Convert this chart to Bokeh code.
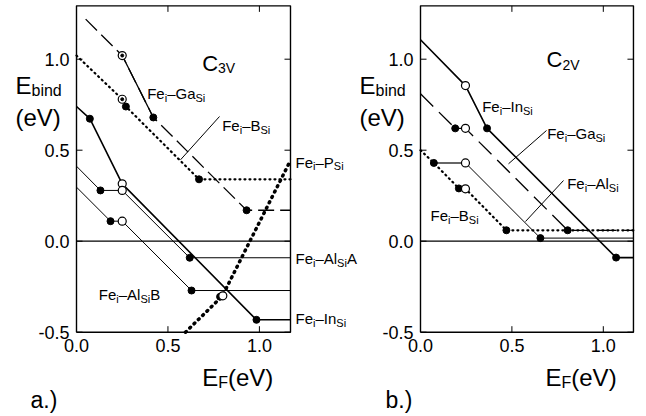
from bokeh.plotting import figure
from bokeh.models import Label, Range1d
from bokeh.layouts import row
from bokeh.embed import file_html
from bokeh.resources import INLINE

FONT = "Liberation Sans"

# ---------------- panel a.) C3v ----------------
xa_ga = [0.05, 0.25, 0.42, 0.93, 1.17]
ya_ga = [1.22, 1.02, 0.68, 0.17, 0.17]
xa_b = [0.0, 0.25, 0.27, 0.67, 1.17]
ya_b = [1.02, 0.78, 0.74, 0.34, 0.34]
xa_p = [0.596, 0.797, 1.17]
ya_p = [-0.5, -0.302, 0.444]
xa_in = [0.0, 0.073, 0.25, 0.984, 1.17]
ya_in = [0.74, 0.673, 0.315, -0.432, -0.432]
xa_ala = [0.0, 0.131, 0.25, 0.619, 1.17]
ya_ala = [0.412, 0.279, 0.279, -0.091, -0.091]
xa_alb = [0.0, 0.186, 0.25, 0.629, 1.17]
ya_alb = [0.297, 0.11, 0.11, -0.271, -0.271]
xa_filled = [0.42, 0.93, 0.27, 0.67, 0.073, 0.984, 0.131, 0.619, 0.186, 0.629, 0.785]
ya_filled = [0.68, 0.17, 0.74, 0.34, 0.673, -0.432, 0.279, -0.091, 0.11, -0.271, -0.305]
xa_open = [0.25, 0.25, 0.25, 0.25, 0.25, 0.80]
ya_open = [1.02, 0.78, 0.315, 0.279, 0.11, -0.30]
xa_dot = [0.25, 0.25]
ya_dot = [1.02, 0.78]

# ---------------- panel b.) C2v ----------------
xb_in = [0.0, 0.246, 0.364, 1.07, 1.165]
yb_in = [1.107, 0.855, 0.62, -0.09, -0.09]
xb_ga = [0.0, 0.19, 0.246, 0.805, 1.165]
yb_ga = [0.81, 0.62, 0.62, 0.06, 0.06]
xb_al = [0.073, 0.246, 0.656, 1.165]
yb_al = [0.43, 0.43, 0.017, 0.017]
xb_b = [0.0, 0.073, 0.21, 0.246, 0.47, 1.165]
yb_b = [0.5, 0.43, 0.29, 0.288, 0.06, 0.06]
xb_filled = [0.364, 1.07, 0.19, 0.805, 0.073, 0.656, 0.21, 0.47]
yb_filled = [0.62, -0.09, 0.62, 0.06, 0.43, 0.017, 0.29, 0.06]
xb_open = [0.246, 0.246, 0.246, 0.246]
yb_open = [0.855, 0.62, 0.43, 0.288]

# ticks
x_ticks = [0.0, 0.5, 1.0]
y_ticks = [-0.5, 0.0, 0.5, 1.0]
x_tick_labels = ["0.0", "0.5", "1.0"]
y_tick_labels = ["-0.5", "0.0", "0.5", "1.0"]
Y_MIN, Y_MAX = -0.5, 1.293

# ---------------- layout constants (page pixels) ----------------
HEIGHT = 414
PPY = 182.0          # px per eV (vertical)
Y_ZERO_PAGE = 240.7  # page y of E_bind = 0
TICK = 6

W = {'F': .611, 'e': .556, 'i': .222, '\u2013': .556, 'G': .778, 'a': .556, 'S': .667,
     'B': .667, 'P': .667, 'A': .667, 'l': .222, 'I': .278, 'n': .556, 'C': .722,
     '2': .556, '3': .556, 'V': .667, 'E': .667, 'b': .556, 'd': .556, '(': .333,
     ')': .333, 'v': .5, '.': .278, ' ': .278}


def twidth(s, size):
    return sum(W.get(c, 0.556) for c in s) * size


class Panel:
    def __init__(self, width, page_start, page_zero, ppx, xmax):
        self.page_zero = page_zero
        self.ppx = ppx
        self.xmax = xmax
        xr = Range1d((page_start - page_zero) / ppx, (page_start + width - page_zero) / ppx)
        yr = Range1d((Y_ZERO_PAGE - HEIGHT) / PPY, Y_ZERO_PAGE / PPY)
        p = figure(width=width, height=HEIGHT, x_range=xr, y_range=yr,
                   output_backend="svg", toolbar_location=None, title=None,
                   x_axis_location=None, y_axis_location=None, min_border=0)
        p.grid.visible = False
        p.outline_line_color = None
        p.background_fill_color = "white"
        p.border_fill_color = "white"
        self.p = p

    def lx(self, px):
        return (px - self.page_zero) / self.ppx

    @staticmethod
    def ly(py):
        return (Y_ZERO_PAGE - py) / PPY

    def frame(self):
        p, xm = self.p, self.xmax
        p.line([0, xm, xm, 0, 0], [Y_MIN, Y_MIN, Y_MAX, Y_MAX, Y_MIN],
               line_color="black", line_width=1.4)
        tx = TICK / self.ppx
        ty = TICK / PPY
        n = len(x_ticks)
        m = len(y_ticks)
        # bottom + top ticks (inward)
        p.segment(x0=x_ticks, y0=[Y_MIN] * n, x1=x_ticks, y1=[Y_MIN + ty] * n, line_color="black")
        p.segment(x0=x_ticks, y0=[Y_MAX] * n, x1=x_ticks, y1=[Y_MAX - ty] * n, line_color="black")
        # left + right ticks
        p.segment(x0=[0] * m, y0=y_ticks, x1=[tx] * m, y1=y_ticks, line_color="black")
        p.segment(x0=[xm] * m, y0=y_ticks, x1=[xm - tx] * m, y1=y_ticks, line_color="black")
        for v, t in zip(x_ticks, x_tick_labels):
            p.add_layout(Label(x=v, y=Y_MIN, y_offset=-7, text=t, text_font=FONT,
                               text_font_size="18px", text_align="center",
                               text_baseline="top", text_color="black"))
        for v, t in zip(y_ticks, y_tick_labels):
            p.add_layout(Label(x=0, y=v, x_offset=-7, text=t, text_font=FONT,
                               text_font_size="18px", text_align="right",
                               text_baseline="middle", text_color="black"))
        p.line([0, xm], [0, 0], line_color="black", line_width=1.2)

    def rich(self, px, py, pieces, size=15, sub=11, drop=4):
        off = 0.0
        for txt, is_sub in pieces:
            fs = sub if is_sub else size
            self.p.add_layout(Label(x=self.lx(px), y=self.ly(py), x_offset=off,
                                    y_offset=(-drop if is_sub else 0), text=txt,
                                    text_font=FONT, text_font_size=f"{fs}px",
                                    text_baseline="alphabetic", text_align="left",
                                    text_color="black"))
            off += twidth(txt, fs)

    def leader(self, p0, p1):
        self.p.line([self.lx(p0[0]), self.lx(p1[0])], [self.ly(p0[1]), self.ly(p1[1])],
                    line_color="black", line_width=1)


def fe(a, b, tail=None):
    pcs = [("Fe", False), ("i", True), ("\u2013" + a, False), (b, True)]
    if tail:
        pcs.append((tail, False))
    return pcs


# ================= panel a =================
A = Panel(358, 0, 76, 182.9, 1.17)
pa = A.p
A.frame()
pa.line(xa_ga, ya_ga, line_color="black", line_width=1.3, line_dash="16 6")
pa.line(xa_ga[1:3], ya_ga[1:3], line_color="black", line_width=1.3)
pa.line(xa_b, ya_b, line_color="black", line_width=2.2, line_dash="1 4", line_cap="round")
pa.line(xa_p, ya_p, line_color="black", line_width=3.5, line_dash="1 5", line_cap="round")
pa.line(xa_in, ya_in, line_color="black", line_width=1.6)
pa.line(xa_ala, ya_ala, line_color="black", line_width=1.0)
pa.line(xa_alb, ya_alb, line_color="black", line_width=1.0)
pa.scatter(xa_filled, ya_filled, size=7, marker="circle", fill_color="black", line_color="black")
pa.scatter(xa_open, ya_open, size=8, marker="circle", fill_color="white", line_color="black", line_width=1.2)
pa.scatter(xa_dot, ya_dot, size=3, marker="circle", fill_color="black", line_color="black")
A.leader((219, 116), (180, 159.3))

A.rich(201.7, 62.7, [("C", False), ("3V", True)], size=22, sub=14, drop=5)
A.rich(146.7, 93.3, fe("Ga", "Si"))
A.rich(221.7, 125, fe("B", "Si"))
A.rich(295, 161.7, fe("P", "Si"))
A.rich(295, 258.3, fe("Al", "Si", "A"))
A.rich(295, 318.3, fe("In", "Si"))
A.rich(98.3, 294.3, fe("Al", "Si", "B"))
A.rich(15, 85, [("E", False), ("bind", True)], size=24, sub=16, drop=5)
A.rich(15, 117, [("(eV)", False)], size=24)
A.rich(201.7, 376.7, [("E", False), ("F", True), ("(eV)", False)], size=24, sub=16, drop=5)
A.rich(30, 399, [("a.)", False)], size=23)

# ================= panel b =================
B = Panel(287, 358, 420, 182.8, 1.165)
pb = B.p
B.frame()
pb.line(xb_in, yb_in, line_color="black", line_width=1.6)
pb.line(xb_ga, yb_ga, line_color="black", line_width=1.3, line_dash="18 8")
pb.line(xb_al[:2], yb_al[:2], line_color="#333333", line_width=1.6)
pb.line(xb_al[1:], yb_al[1:], line_color="black", line_width=1.0)
pb.line(xb_b, yb_b, line_color="black", line_width=2.2, line_dash="1 4", line_cap="round")
pb.scatter(xb_filled, yb_filled, size=7, marker="circle", fill_color="black", line_color="black")
pb.scatter(xb_open, yb_open, size=8, marker="circle", fill_color="white", line_color="black", line_width=1.2)
B.leader((546, 130), (508, 163.3))
B.leader((563, 180), (525, 221))

B.rich(546, 59.3, [("C", False), ("2V", True)], size=22, sub=14, drop=5)
B.rich(481.7, 106, fe("In", "Si"))
B.rich(546.7, 133.3, fe("Ga", "Si"))
B.rich(566.7, 183.3, fe("Al", "Si"))
B.rich(430, 215, fe("B", "Si"))
B.rich(359, 85, [("E", False), ("bind", True)], size=24, sub=16, drop=5)
B.rich(359, 117, [("(eV)", False)], size=24)
B.rich(545, 376.7, [("E", False), ("F", True), ("(eV)", False)], size=24, sub=16, drop=5)
B.rich(385, 399, [("b.)", False)], size=23)

layout = row(pa, pb)
open("out.html", "w").write(file_html(layout, INLINE))
